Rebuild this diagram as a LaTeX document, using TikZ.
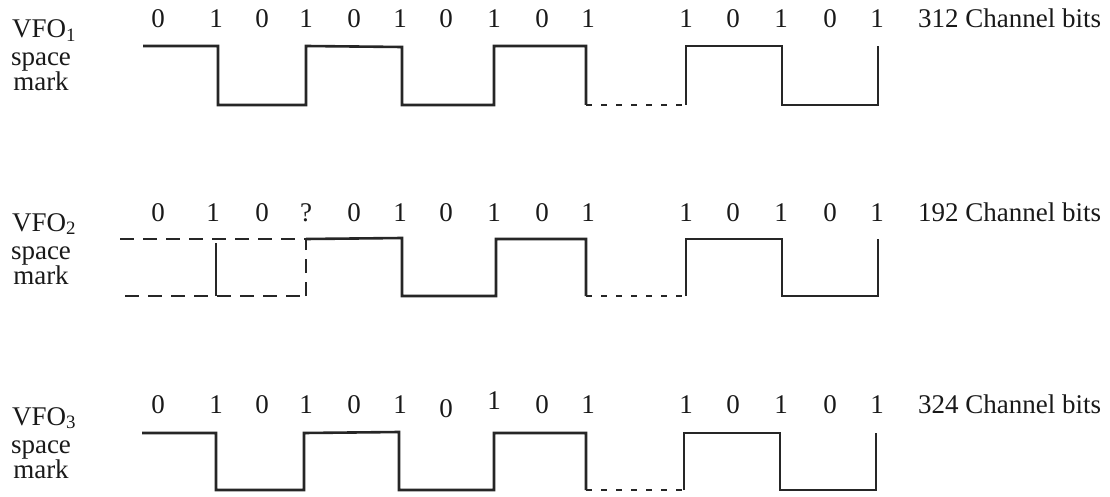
\documentclass[tikz,border=0pt]{standalone}
\usepackage{fontspec}
\setmainfont{Liberation Serif}
\begin{document}
\begin{tikzpicture}[x=1pt,y=-1pt,
  wave/.style={line width=2.6pt,black!85},
  gapline/.style={line width=2.6pt,black!85,dash pattern=on 6pt off 9pt},
  unsure/.style={line width=2.6pt,black!85,dash pattern=on 14pt off 9pt},
  txt/.style={inner sep=0pt,anchor=base,font=\fontsize{27}{31}\selectfont,text=black!90},
  side/.style={txt},
  bitlab/.style={txt},
  note/.style={txt,anchor=base west}]
\useasboundingbox (0,0) rectangle (1110,497);
% ---------- left labels ----------
\foreach \r/\h in {1/46,2/239,3/433}{
  \node[side] (vfo\r) at (44,\h-8) {VFO\textsubscript{\r}};
  \node[side] (space\r) at (41,\h+20) {space};
  \node[side] (mark\r) at (41,\h+45) {mark};
}
% ---------- bit labels ----------
\foreach \x/\b [count=\i] in {158/0,216/1,262/0,306/1,354/0,400/1,446/0,494/1,542/0,588/1,686/1,733/0,781/1,830/0,877/1}{
  \node[bitlab] (ba\i) at (\x,28) {\b};
}
\foreach \x/\b [count=\i] in {158/0,213/1,262/0,306/?,354/0,400/1,446/0,494/1,542/0,588/1,686/1,733/0,781/1,830/0,877/1}{
  \node[bitlab] (bb\i) at (\x,222) {\b};
}
\foreach \x/\b/\dy [count=\i] in {158/0/0,216/1/0,262/0/0,306/1/0,354/0/0,400/1/0,446/0/4,494/1/-4,542/0/0,588/1/0,686/1/0,733/0/0,781/1/0,830/0/0,877/1/0}{
  \node[bitlab] (bc\i) at (\x,413+\dy) {\b};
}
\node[note] (cb1) at (918,28) {312 Channel bits};
\node[note] (cb2) at (918,222) {192 Channel bits};
\node[note] (cb3) at (918,413) {324 Channel bits};
% ---------- VFO1 waveform ----------
\draw[wave] (143,46) -- (218,46) -- (218,105) -- (306,105) -- (306,46) -- (402,47) -- (402,105)
  -- (494,105) -- (494,46) -- (586,46) -- (586,105);
\draw[gapline] (586,105) -- (686,105);
\draw[wave] (686,105) -- (686,46) -- (782,46) -- (782,105) -- (878,105) -- (878,46);
% ---------- VFO2 waveform ----------
\draw[unsure] (120,239) -- (306,239);
\draw[unsure] (125,296) -- (306,296);
\draw[unsure] (306,296) -- (306,239);
\draw[wave] (216,243) -- (216,296);
\draw[wave] (306,239) -- (402,238) -- (402,296) -- (496,296) -- (496,239) -- (586,239) -- (586,296);
\draw[gapline] (586,296) -- (686,296);
\draw[wave] (686,296) -- (686,239) -- (782,239) -- (782,296) -- (878,296) -- (878,239);
% ---------- VFO3 waveform ----------
\draw[wave] (142,433) -- (216,433) -- (216,490) -- (304,490) -- (304,433) -- (399,432) -- (399,490)
  -- (494,490) -- (494,433) -- (586,433) -- (586,490);
\draw[gapline] (586,490) -- (684,490);
\draw[wave] (684,490) -- (684,433) -- (780,433) -- (780,490) -- (876,490) -- (876,433);
\end{tikzpicture}
\end{document}
